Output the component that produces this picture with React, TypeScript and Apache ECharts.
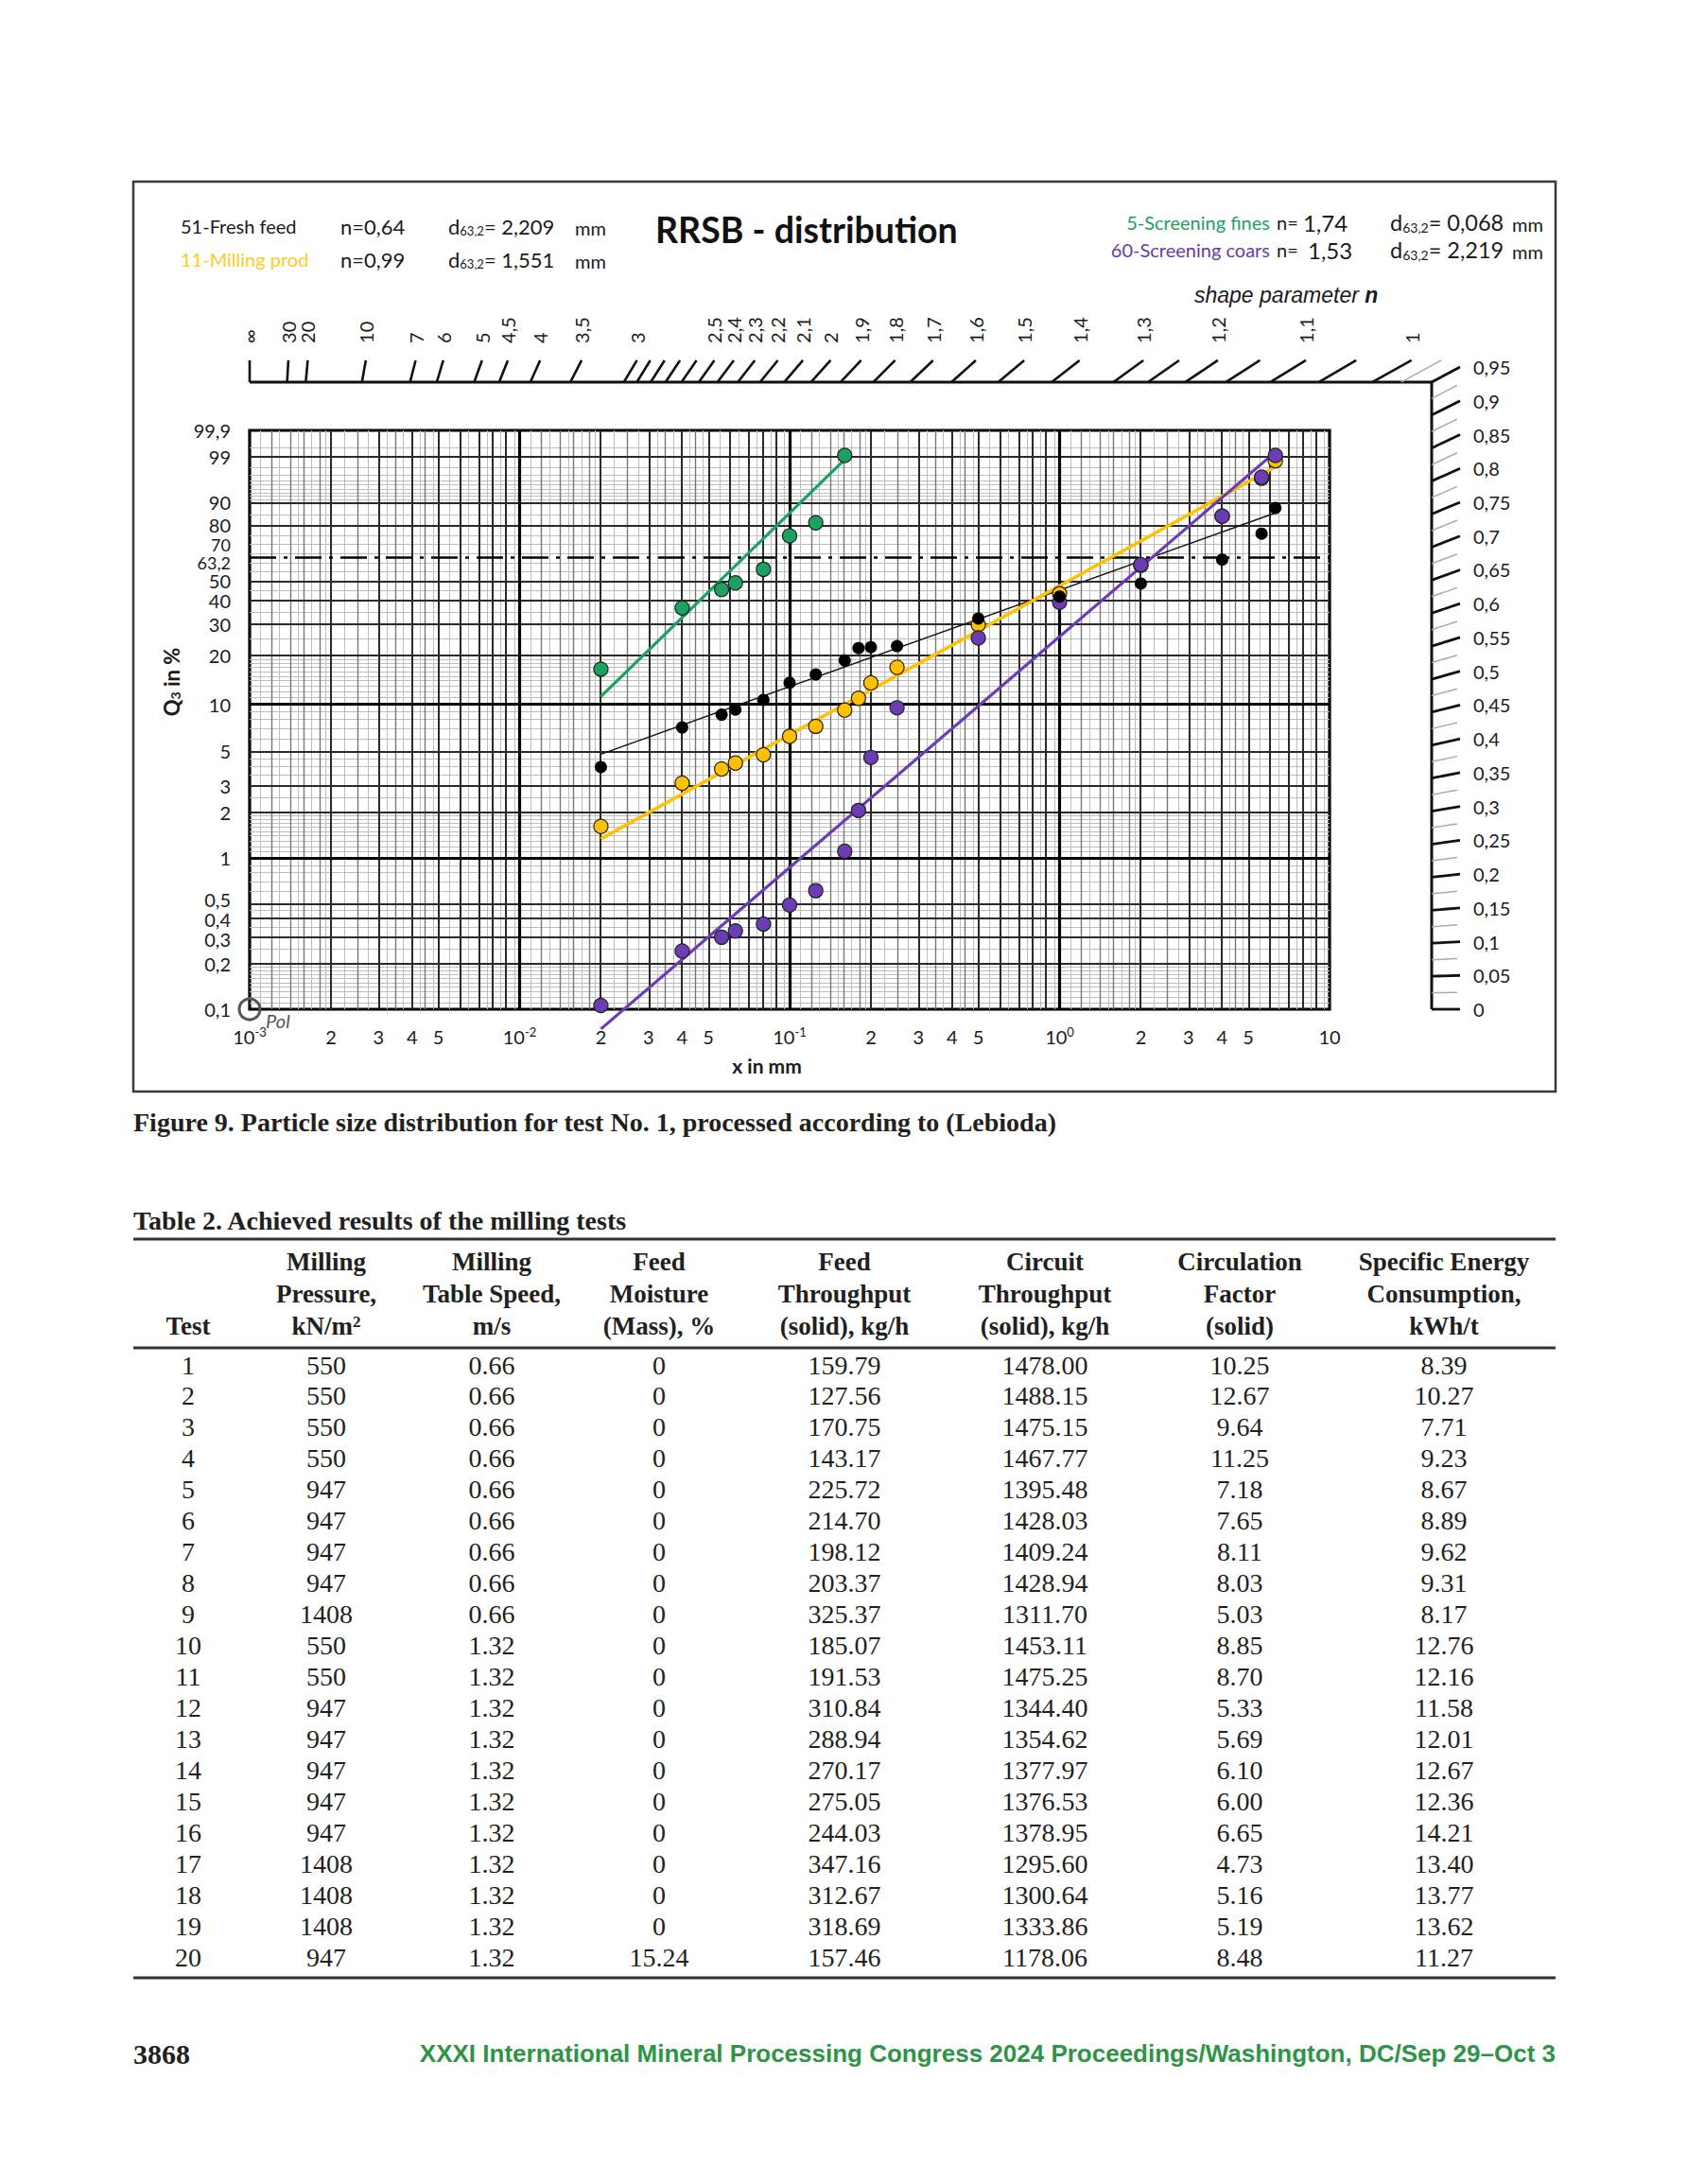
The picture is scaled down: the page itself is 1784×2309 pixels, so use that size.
import React, { useEffect, useRef } from 'react';
import * as echarts from 'echarts';

// ---------------- chart data ----------------
const sieveSizesMm = [0.02, 0.04, 0.056, 0.063, 0.08, 0.1, 0.125, 0.16, 0.18, 0.2, 0.25, 0.5, 1, 2, 4, 5.6, 6.3];
const freshFeedQ = [3.96, 7.13, 8.6, 9.26, 10.65, 13.6, 15.3, 18.6, 22.0, 22.3, 22.6, 32.3, 42.1, 48.6, 61.7, 76.0, 87.9];
const millingProdQ = [1.62, 3.11, 3.85, 4.2, 4.76, 6.26, 7.25, 9.2, 10.9, 13.6, 16.9, 29.9, 43.5, 58.5, 84.5, 96.4, 98.7];
const screeningFinesQ = [16.5, 36.8, 45.6, 49.0, 56.3, 74.8, 81.4, 99.1];
const screeningCoarseQ = [0.106, 0.243, 0.3, 0.33, 0.367, 0.49, 0.61, 1.11, 2.06, 4.57, 9.5, 25.2, 39.4, 58.9, 84.5, 96.6, 99.1];

// fitted RRSB lines (end points)
const fitSpanMm = [0.02, 6.3];
const finesFitSpanMm = [0.02, 0.16];
const freshFeedFitQ = [4.8, 85.9];
const millingProdFitQ = [1.34, 98.1];
const screeningFinesFitQ = [11.2, 98.8];
const screeningCoarseFitQ = [0.074, 99.3];

// axis ticks
const xTickMm = [0.001, 0.002, 0.003, 0.004, 0.005, 0.01, 0.02, 0.03, 0.04, 0.05, 0.1, 0.2, 0.3, 0.4, 0.5, 1, 2, 3, 4, 5, 10];
const xTickLabels = ['10^-3', '2', '3', '4', '5', '10^-2', '2', '3', '4', '5', '10^-1', '2', '3', '4', '5', '10^0', '2', '3', '4', '5', '10'];
const yTickQ = [99.9, 99, 90, 80, 70, 63.2, 50, 40, 30, 20, 10, 5, 3, 2, 1, 0.5, 0.4, 0.3, 0.2, 0.1];
const yTickLabels = ['99,9', '99', '90', '80', '70', '63,2', '50', '40', '30', '20', '10', '5', '3', '2', '1', '0,5', '0,4', '0,3', '0,2', '0,1'];
// label style keys (crowded labels are nudged / slightly smaller, as in the reference)
const yTickStyle = ['n', 'n', 'n', 'up1', 's', 'sdn6', 'n', 'n', 'n', 'n', 'n', 'n', 'n', 'n', 'n', 'up4', 'dn1', 'dn2', 'n', 'n'];

// shape parameter nomogram
const topScaleN = [Infinity, 30, 20, 10, 7, 6, 5, 4.5, 4, 3.5, 3, 2.5, 2.4, 2.3, 2.2, 2.1, 2, 1.9, 1.8, 1.7, 1.6, 1.5, 1.4, 1.3, 1.2, 1.1, 1];
const topScaleLabels = ['∞', '30', '20', '10', '7', '6', '5', '4,5', '4', '3,5', '3', '2,5', '2,4', '2,3', '2,2', '2,1', '2', '1,9', '1,8', '1,7', '1,6', '1,5', '1,4', '1,3', '1,2', '1,1', '1'];
const topScaleMinorN = [2.9, 2.8, 2.7, 2.6, 1.25, 1.15, 1.05];
const topScaleLightN = [0.975];
const rightScaleN = [0.95, 0.9, 0.85, 0.8, 0.75, 0.7, 0.65, 0.6, 0.55, 0.5, 0.45, 0.4, 0.35, 0.3, 0.25, 0.2, 0.15, 0.1, 0.05, 0];
const rightScaleLabels = ['0,95', '0,9', '0,85', '0,8', '0,75', '0,7', '0,65', '0,6', '0,55', '0,5', '0,45', '0,4', '0,35', '0,3', '0,25', '0,2', '0,15', '0,1', '0,05', '0'];
const rightScaleMinorN = [0.925, 0.875, 0.825, 0.775, 0.725, 0.675, 0.625, 0.575, 0.525, 0.475, 0.425, 0.375, 0.325, 0.275, 0.225, 0.175, 0.125, 0.075, 0.025];

// grid of the RRSB paper
const vMajorMm = [0.01, 0.1, 1];
const decadeStartsMm = [0.001, 0.01, 0.1, 1];
const vDarkMult = [2, 3, 4, 5, 6, 7, 8, 9];
const vMidMult = [1.2, 1.4, 1.6, 1.8, 2.5, 3.5, 4.5];
const vLightMult = [1.1, 1.3, 1.5, 1.7, 1.9, 2.25, 2.75, 3.25, 3.75, 4.25, 4.75, 5.5, 6.5, 7.5, 8.5, 9.5];
const hMajorQ = [1, 10];
const hDarkQ = [99, 90, 80, 50, 40, 30, 20, 5, 3, 2, 0.5, 0.4, 0.3, 0.2];
const hLightQ = [99.5, 98, 97, 96, 95, 94, 93, 92, 91, 85, 75, 70, 65, 60, 55, 45, 35, 25, 19, 18, 17, 16, 15, 14, 13, 12, 11,
  9, 8, 7, 6, 4.5, 4, 3.5, 2.5, 1.9, 1.8, 1.7, 1.6, 1.5, 1.4, 1.3, 1.2, 1.1, 0.9, 0.8, 0.7, 0.6, 0.45, 0.35, 0.25,
  0.19, 0.18, 0.17, 0.16, 0.15, 0.14, 0.13, 0.12, 0.11];
const d632LineQ = 63.2;

// ---------------- table data ----------------
const tableHeader = [
  ['', '', 'Test'],
  ['Milling', 'Pressure,', 'kN/m^2'],
  ['Milling', 'Table Speed,', 'm/s'],
  ['Feed', 'Moisture', '(Mass), %'],
  ['Feed', 'Throughput', '(solid), kg/h'],
  ['Circuit', 'Throughput', '(solid), kg/h'],
  ['Circulation', 'Factor', '(solid)'],
  ['Specific Energy', 'Consumption,', 'kWh/t'],
];
const testNo = ['1', '2', '3', '4', '5', '6', '7', '8', '9', '10', '11', '12', '13', '14', '15', '16', '17', '18', '19', '20'];
const millingPressure = ['550', '550', '550', '550', '947', '947', '947', '947', '1408', '550', '550', '947', '947', '947', '947', '947', '1408', '1408', '1408', '947'];
const tableSpeed = ['0.66', '0.66', '0.66', '0.66', '0.66', '0.66', '0.66', '0.66', '0.66', '1.32', '1.32', '1.32', '1.32', '1.32', '1.32', '1.32', '1.32', '1.32', '1.32', '1.32'];
const feedMoisture = ['0', '0', '0', '0', '0', '0', '0', '0', '0', '0', '0', '0', '0', '0', '0', '0', '0', '0', '0', '15.24'];
const feedThroughput = ['159.79', '127.56', '170.75', '143.17', '225.72', '214.70', '198.12', '203.37', '325.37', '185.07', '191.53', '310.84', '288.94', '270.17', '275.05', '244.03', '347.16', '312.67', '318.69', '157.46'];
const circuitThroughput = ['1478.00', '1488.15', '1475.15', '1467.77', '1395.48', '1428.03', '1409.24', '1428.94', '1311.70', '1453.11', '1475.25', '1344.40', '1354.62', '1377.97', '1376.53', '1378.95', '1295.60', '1300.64', '1333.86', '1178.06'];
const circulationFactor = ['10.25', '12.67', '9.64', '11.25', '7.18', '7.65', '8.11', '8.03', '5.03', '8.85', '8.70', '5.33', '5.69', '6.10', '6.00', '6.65', '4.73', '5.16', '5.19', '8.48'];
const specificEnergy = ['8.39', '10.27', '7.71', '9.23', '8.67', '8.89', '9.62', '9.31', '8.17', '12.76', '12.16', '11.58', '12.01', '12.67', '12.36', '14.21', '13.40', '13.77', '13.62', '11.27'];

// ---------------- scales ----------------
const T = (q: number) => Math.log(-Math.log(1 - q / 100));
const L = (x: number) => Math.log10(x);
const X_MIN = -3;
const X_MAX = 1;
const T_MIN = T(0.1);
const T_MAX = T(99.9);
const LN10 = Math.LN10;
const NOMO_TOP_T = 2.67;
const CORNER_N = 0.95;

const GREEN = '#1ba160';
const YELLOW = '#ffc000';
const PURPLE = '#6c3cb4';
const SANS = 'Lato';
const SERIF = 'Liberation Serif';

const nearest = (arr: number[], v: number) => {
  let best = 0;
  for (let i = 1; i < arr.length; i++) if (Math.abs(arr[i] - v) < Math.abs(arr[best] - v)) best = i;
  return best;
};

const pts = (xs: number[], qs: number[]) => qs.map((q, i) => [L(xs[i]), T(q)]);

function buildOption() {
  const xTickLg = xTickMm.map(L);
  const yTickT = yTickQ.map(T);

  // grid lines as markLines
  const ml: any[] = [];
  const vline = (mm: number, color: string, width: number) => ml.push({ xAxis: L(mm), lineStyle: { color, width, type: 'solid' } });
  const hline = (q: number, color: string, width: number, type: any = 'solid') => ml.push({ yAxis: T(q), lineStyle: { color, width, type } });
  decadeStartsMm.forEach((d) => vLightMult.forEach((m) => vline(d * m, '#bdbdbd', 1)));
  hLightQ.forEach((q) => hline(q, '#bdbdbd', 1));
  decadeStartsMm.forEach((d) => vMidMult.forEach((m) => vline(d * m, '#777', 1.4)));
  decadeStartsMm.forEach((d) => vDarkMult.forEach((m) => vline(d * m, '#2a2a2a', 2)));
  hDarkQ.forEach((q) => hline(q, '#2a2a2a', 2));
  vMajorMm.forEach((mm) => vline(mm, '#000', 3.2));
  hMajorQ.forEach((q) => hline(q, '#000', 3.2));
  hline(d632LineQ, '#000', 2.6, [28, 8, 4, 8]);

  const topTicks = [
    ...topScaleN.map((n, i) => ({ n, label: topScaleLabels[i], light: false })),
    ...topScaleMinorN.map((n) => ({ n, label: '', light: false })),
    ...topScaleLightN.map((n) => ({ n, label: '', light: true })),
  ];
  const rightTicks = [
    ...rightScaleN.map((n, i) => ({ n, label: rightScaleLabels[i], light: false })),
    ...rightScaleMinorN.map((n) => ({ n, label: '', light: true })),
  ];
  const lgCorner = X_MIN + (NOMO_TOP_T - T_MIN) / (CORNER_N * LN10);

  const labelFont = { fontFamily: SANS, fontSize: 20, fill: '#1a1a1a' };

  const series: any[] = [
    {
      type: 'line', name: 'grid', data: [[X_MIN, T_MIN]], symbol: 'none', silent: true, z: 1,
      lineStyle: { width: 0, opacity: 0 },
      markLine: { silent: true, z: 1, symbol: ['none', 'none'], label: { show: false }, animation: false,
        lineStyle: { type: 'solid' }, emphasis: { disabled: true }, data: ml },
    },
    // nomogram frame and pole
    {
      type: 'custom', name: 'nomoFrame', silent: true, z: 2, data: [[0, 0]],
      renderItem: (params: any, api: any) => {
        const a = api.coord([X_MIN, NOMO_TOP_T]);
        const b = api.coord([lgCorner, NOMO_TOP_T]);
        const c = api.coord([lgCorner, T_MIN]);
        const p = api.coord([X_MIN, T_MIN]);
        return {
          type: 'group', children: [
            { type: 'polyline', shape: { points: [a, b, c] }, style: { stroke: '#111', lineWidth: 3, fill: null } },
            { type: 'circle', shape: { cx: p[0], cy: p[1], r: 11 }, style: { stroke: '#555', lineWidth: 3, fill: null } },
            { type: 'text', x: p[0] + 17, y: p[1] + 12, style: { text: 'Pol', fontFamily: SANS, fontStyle: 'italic', fontSize: 20, fill: '#555', align: 'left', verticalAlign: 'middle' } },
          ],
        };
      },
    },
    // top shape-parameter scale
    {
      type: 'custom', name: 'nomoTop', silent: true, z: 2, data: topTicks.map(() => [0, 0]),
      renderItem: (params: any, api: any) => {
        const tk = topTicks[params.dataIndex];
        const finite = isFinite(tk.n);
        const lgB = finite ? X_MIN + (NOMO_TOP_T - T_MIN) / (tk.n * LN10) : X_MIN;
        const base = api.coord([lgB, NOMO_TOP_T]);
        let kx = 0;
        if (finite) {
          const p2 = api.coord([lgB + 1, NOMO_TOP_T + tk.n * LN10]);
          kx = (p2[0] - base[0]) / (base[1] - p2[1]);
        }
        const h = 23;
        const top = [base[0] + kx * h, base[1] - h];
        const children: any[] = [
          { type: 'line', shape: { x1: base[0], y1: base[1], x2: top[0], y2: top[1] },
            style: { stroke: tk.light ? '#aaa' : '#111', lineWidth: tk.light ? 1.5 : 2.6 } },
        ];
        if (tk.label) {
          children.push({ type: 'text', x: top[0], y: base[1] - 41, rotation: Math.PI / 2,
            style: { text: tk.label, ...labelFont, align: 'left', verticalAlign: 'middle' } });
        }
        return { type: 'group', children };
      },
    },
    // right shape-parameter scale
    {
      type: 'custom', name: 'nomoRight', silent: true, z: 2, data: rightTicks.map(() => [0, 0]),
      renderItem: (params: any, api: any) => {
        const tk = rightTicks[params.dataIndex];
        const tV = T_MIN + tk.n * (lgCorner - X_MIN) * LN10;
        const base = api.coord([lgCorner, tV]);
        const p2 = api.coord([lgCorner + 1, tV + tk.n * LN10]);
        const ky = (p2[1] - base[1]) / (p2[0] - base[0]);
        const w = tk.light ? 27 : 30;
        const end = [base[0] + w, base[1] + ky * w];
        const children: any[] = [
          { type: 'line', shape: { x1: base[0], y1: base[1], x2: end[0], y2: end[1] },
            style: { stroke: tk.light ? '#aaa' : '#111', lineWidth: tk.light ? 1.5 : 2.8 } },
        ];
        if (tk.label) {
          children.push({ type: 'text', x: end[0] + 14, y: end[1],
            style: { text: tk.label, ...labelFont, align: 'left', verticalAlign: 'middle' } });
        }
        return { type: 'group', children };
      },
    },
    // fitted lines
    { type: 'line', name: '51-Fresh feed fit', data: pts(fitSpanMm, freshFeedFitQ), symbol: 'none', clip: false, z: 8, silent: true,
      lineStyle: { color: '#111', width: 1.4 } },
    { type: 'line', name: '11-Milling prod fit', data: pts(fitSpanMm, millingProdFitQ), symbol: 'none', clip: false, z: 8, silent: true,
      lineStyle: { color: YELLOW, width: 3.6 } },
    { type: 'line', name: '5-Screening fines fit', data: pts(finesFitSpanMm, screeningFinesFitQ), symbol: 'none', clip: false, z: 8, silent: true,
      lineStyle: { color: GREEN, width: 3.2 } },
    { type: 'line', name: '60-Screening coars fit', data: pts(fitSpanMm, screeningCoarseFitQ), symbol: 'none', clip: false, z: 8, silent: true,
      lineStyle: { color: PURPLE, width: 3.2 } },
    // measured points
    { type: 'scatter', name: '11-Milling prod', data: pts(sieveSizesMm, millingProdQ), symbolSize: 15, z: 10, clip: false,
      itemStyle: { color: YELLOW, borderColor: '#222', borderWidth: 1.2, opacity: 1 } },
    { type: 'scatter', name: '60-Screening coars', data: pts(sieveSizesMm, screeningCoarseQ), symbolSize: 15, z: 10, clip: false,
      itemStyle: { color: PURPLE, borderColor: '#222', borderWidth: 1.2, opacity: 1 } },
    { type: 'scatter', name: '51-Fresh feed', data: pts(sieveSizesMm, freshFeedQ), symbolSize: 13, z: 10, clip: false,
      itemStyle: { color: '#000', opacity: 1 } },
    { type: 'scatter', name: '5-Screening fines', data: pts(sieveSizesMm.slice(0, screeningFinesQ.length), screeningFinesQ), symbolSize: 15, z: 10, clip: false,
      itemStyle: { color: GREEN, borderColor: '#222', borderWidth: 1.2, opacity: 1 } },
  ];

  // ---------------- graphic texts ----------------
  const g: any[] = [];
  const txt = (x: number, y: number, text: string, o: any = {}) =>
    g.push({ type: 'text', x, y, silent: true, z: 10,
      style: { text, fontSize: 20, fontFamily: SANS, fill: '#1a1a1a', align: 'left', verticalAlign: 'middle', ...o } });
  const dRich = { a: { fontSize: 22, fontFamily: SANS, fill: '#1a1a1a' }, s: { fontSize: 13, fontFamily: SANS, fill: '#1a1a1a', verticalAlign: 'bottom', lineHeight: 14 } };
  const dRichR = { a: { fontSize: 23.5, fontFamily: SANS, fill: '#1a1a1a' }, s: { fontSize: 14, fontFamily: SANS, fill: '#1a1a1a', verticalAlign: 'bottom', lineHeight: 15 } };

  g.push({ type: 'rect', silent: true, shape: { x: 141, y: 192, width: 1504, height: 962 }, style: { fill: null, stroke: '#3a3a3a', lineWidth: 2.5 } });

  txt(191, 239, '51-Fresh feed');
  txt(360, 239, 'n=0,64', { fontSize: 22 });
  txt(474, 239, '{a|d}{s|63,2}{a|= 2,209}', { rich: dRich });
  txt(608, 241, 'mm');
  txt(191, 274, '11-Milling prod', { fill: '#ffcb1f' });
  txt(360, 274, 'n=0,99', { fontSize: 22 });
  txt(474, 274, '{a|d}{s|63,2}{a|= 1,551}', { rich: dRich });
  txt(608, 276, 'mm');
  txt(693, 242, 'RRSB - distribution', { fontSize: 37.5, fontWeight: 'bold', fill: '#111' });

  const nRich = { a: { fontSize: 20, fontFamily: SANS, fill: '#1a1a1a' }, b: { fontSize: 24, fontFamily: SANS, fill: '#1a1a1a' } };
  txt(1343, 235, '5-Screening fines', { align: 'right', fill: GREEN });
  txt(1350, 235, '{a|n= }{b|1,74}', { rich: nRich });
  txt(1470, 235, '{a|d}{s|63,2}{a|= 0,068}', { rich: dRichR });
  txt(1599, 237, 'mm');
  txt(1343, 264, '60-Screening coars', { align: 'right', fill: '#6a3aa6' });
  txt(1350, 264, '{a|n=  }{b|1,53}', { rich: nRich });
  txt(1470, 264, '{a|d}{s|63,2}{a|= 2,219}', { rich: dRichR });
  txt(1599, 266, 'mm');

  txt(1263, 312, '{a|shape parameter }{b|n}', {
    rich: {
      a: { fontFamily: 'Liberation Sans', fontStyle: 'italic', fontSize: 23, fill: '#1a1a1a' },
      b: { fontFamily: 'Liberation Sans', fontStyle: 'italic', fontWeight: 'bold', fontSize: 23, fill: '#1a1a1a' },
    },
  });

  g.push({ type: 'text', x: 181, y: 721, rotation: Math.PI / 2, silent: true, z: 10,
    style: { text: '{b|Q}{s|3}{b| in %}', align: 'center', verticalAlign: 'middle',
      rich: { b: { fontFamily: SANS, fontWeight: 'bold', fontSize: 22, fill: '#1a1a1a' },
        s: { fontFamily: SANS, fontWeight: 'bold', fontSize: 14, fill: '#1a1a1a', verticalAlign: 'bottom', lineHeight: 14 } } } });
  txt(811, 1126, 'x in mm', { align: 'center', fontWeight: 'bold', fontSize: 21 });

  // caption & table
  const serifBold = { fontFamily: SERIF, fontWeight: 'bold', fill: '#231f20' };
  txt(141, 1186, 'Figure 9. Particle size distribution for test No. 1, processed according to (Lebioda)', { ...serifBold, fontSize: 28 });
  txt(141, 1290, 'Table 2. Achieved results of the milling tests', { ...serifBold, fontSize: 28 });

  const rule = (y: number) => g.push({ type: 'line', silent: true, shape: { x1: 141, y1: y, x2: 1645, y2: y }, style: { stroke: '#333', lineWidth: 3 } });
  rule(1310); rule(1425); rule(2091);

  const colX = [199, 345, 520, 697, 893, 1105, 1311, 1527];
  const headerY = [1334, 1368, 1402];
  tableHeader.forEach((col, ci) => col.forEach((line, li) => {
    if (!line) return;
    if (line.includes('^')) {
      const [b, e] = line.split('^');
      txt(colX[ci], headerY[li], `{a|${b}}{s|${e}}`, { align: 'center', rich: {
        a: { ...serifBold, fontSize: 27 }, s: { ...serifBold, fontSize: 17, verticalAlign: 'top', lineHeight: 17 } } });
    } else {
      txt(colX[ci], headerY[li], line, { ...serifBold, fontSize: 27, align: 'center' });
    }
  }));
  const columns = [testNo, millingPressure, tableSpeed, feedMoisture, feedThroughput, circuitThroughput, circulationFactor, specificEnergy];
  columns.forEach((col, ci) => col.forEach((v, ri) => {
    txt(colX[ci], 1443 + ri * 32.95, v, { fontFamily: SERIF, fontSize: 28, fill: '#231f20', align: 'center' });
  }));

  txt(141, 2171, '3868', { ...serifBold, fontSize: 30 });
  txt(1645, 2171, 'XXXI International Mineral Processing Congress 2024 Proceedings/Washington, DC/Sep 29–Oct 3',
    { fontFamily: 'Liberation Sans', fontWeight: 'bold', fontSize: 26, fill: '#2e9446', align: 'right' });

  const base = { fontFamily: SANS, color: '#1a1a1a' };
  const yRich: any = {
    n: { ...base, fontSize: 20 },
    up1: { ...base, fontSize: 20, padding: [0, 0, 2, 0] },
    up4: { ...base, fontSize: 20, padding: [0, 0, 8, 0] },
    dn1: { ...base, fontSize: 20, padding: [2, 0, 0, 0] },
    dn2: { ...base, fontSize: 20, padding: [4, 0, 0, 0] },
    s: { ...base, fontSize: 18 },
    sdn6: { ...base, fontSize: 18, padding: [12, 0, 0, 0] },
  };

  return {
    animation: false,
    backgroundColor: '#fff',
    textStyle: { fontFamily: SANS },
    grid: { left: 264, top: 455, width: 1142, height: 612, show: true, borderColor: '#000', borderWidth: 3.2, backgroundColor: 'transparent' },
    xAxis: {
      type: 'value', min: X_MIN, max: X_MAX,
      axisLine: { show: false }, axisTick: { show: false }, splitLine: { show: false },
      axisLabel: {
        customValues: xTickLg, margin: 17, color: '#1a1a1a',
        formatter: (v: number) => {
          const lab = xTickLabels[nearest(xTickLg, v)];
          if (lab.includes('^')) { const [b, e] = lab.split('^'); return `{m|${b}}{s|${e}}`; }
          return `{m|${lab}}`;
        },
        rich: {
          m: { fontFamily: SANS, fontSize: 20, lineHeight: 24, color: '#1a1a1a' },
          s: { fontFamily: SANS, fontSize: 13, lineHeight: 13, verticalAlign: 'top', color: '#1a1a1a' },
        },
      },
    },
    yAxis: {
      type: 'value', min: T_MIN, max: T_MAX,
      axisLine: { show: false }, axisTick: { show: false }, splitLine: { show: false },
      axisLabel: {
        customValues: yTickT, margin: 20, color: '#1a1a1a',
        formatter: (v: number) => {
          const i = nearest(yTickT, v);
          return `{${yTickStyle[i]}|${yTickLabels[i]}}`;
        },
        rich: yRich,
      },
    },
    series,
    graphic: g,
  };
}

export default function App() {
  const ref = useRef<HTMLDivElement>(null);
  useEffect(() => {
    if (!ref.current) return;
    const chart = echarts.init(ref.current, null, { renderer: 'svg' });
    chart.setOption(buildOption() as any);
    return () => chart.dispose();
  }, []);
  return (
    <div
      ref={ref}
      style={{ position: 'absolute', left: 0, top: 0, width: 1784, height: 2309, background: '#fff' }}
    />
  );
}
